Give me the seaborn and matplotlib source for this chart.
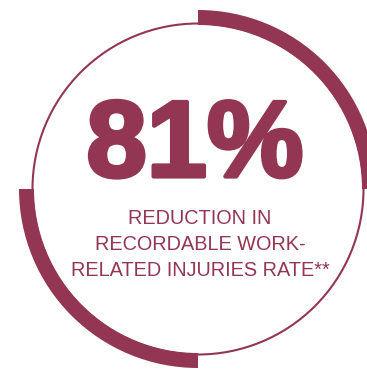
import matplotlib
matplotlib.use("Agg")
import matplotlib.pyplot as plt
import matplotlib.patheffects as pe
from matplotlib.patches import Circle, Wedge
import seaborn as sns

# Headline statistic and caption
value_pct = [81]
caption_lines = ["REDUCTION IN", "RECORDABLE WORK-", "RELATED INJURIES RATE"]
caption_suffix = ["**"]

# Decorative thick quadrants (start, end angle in degrees)
accent_arcs = [(0, 90), (180, 270)]

color = "#933653"

sns.set_theme(style="white")
plt.rcParams["font.family"] = ["Liberation Sans", "DejaVu Sans"]

W, H = 367, 371
fig = plt.figure(figsize=(W / 100, H / 100), dpi=100)
ax = fig.add_axes([0, 0, 1, 1])
ax.set_xlim(0, W)
ax.set_ylim(0, H)
ax.set_aspect("equal")
ax.axis("off")

cx, cy = 198, H - 189
r_thin = 165.5
r_outer, band = 179, 15

ax.add_patch(Circle((cx, cy), r_thin, fill=False, ec=color, lw=1.5))
for a0, a1 in accent_arcs:
    ax.add_patch(Wedge((cx, cy), r_outer, a0, a1, width=band, fc=color, ec="none"))

# Heavy headline: bold face thickened with a same-colour stroke
ax.text(195, H - 176.5, f"{value_pct[0]}%", ha="center", va="baseline",
        fontsize=78, fontweight="bold", color=color,
        path_effects=[pe.withStroke(linewidth=3, foreground=color)])

baselines = [224, 250, 276]
for i, (line, y) in enumerate(zip(caption_lines, baselines)):
    t = line + (caption_suffix[0] if i == len(caption_lines) - 1 else "")
    ax.text(200, H - y, t, ha="center", va="baseline", fontsize=14.3,
            color=color)

fig.savefig("out.png", dpi=100, facecolor="white")
